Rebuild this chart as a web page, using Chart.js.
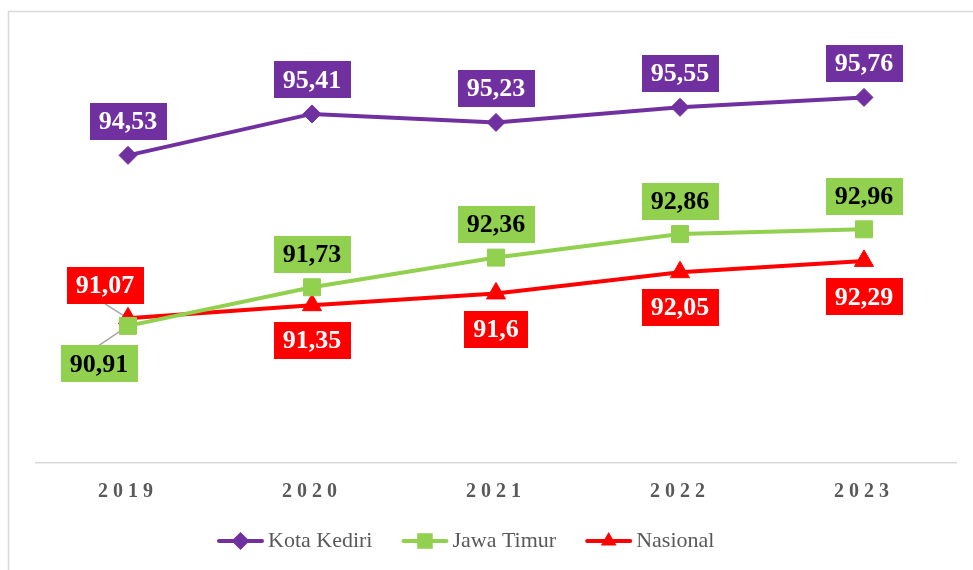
<!DOCTYPE html>
<html>
<head>
<meta charset="utf-8">
<title>Kota Kediri, Jawa Timur, Nasional 2019-2023</title>
<script src="https://cdn.jsdelivr.net/npm/chart.js@4.4.1/dist/chart.umd.min.js"></script>
<style>
  html, body { margin: 0; padding: 0; background: #fff; }
</style>
</head>
<body>
<canvas id="chart" width="973" height="570"></canvas>
<script>
// Tahun dan nilai per wilayah
const years = ["2019", "2020", "2021", "2022", "2023"]
const kotaKediri = [94.53, 95.41, 95.23, 95.55, 95.76]
const jawaTimur = [90.91, 91.73, 92.36, 92.86, 92.96]
const nasional = [91.07, 91.35, 91.6, 92.05, 92.29]

// Letak kotak label relatif terhadap titik (dx, dy)
const kediriLabelPos = [[0, -34], [0, -34], [0, -34], [0, -34], [0, -34]]
const jatimLabelPos = [[-29, 38], [0, -33], [0, -33], [0, -33], [0, -33]]
const nasionalLabelPos = [[-23, -33], [0, 35], [0, 36], [0, 35], [0, 36]]

const serif = "'Liberation Serif', 'Times New Roman', serif"
const grey = "#595959"

function drawMarker(ctx, style, x, y, r, color) {
  ctx.save()
  ctx.fillStyle = color
  ctx.beginPath()
  if (style === "rectRot") {
    ctx.moveTo(x, y - r)
    ctx.lineTo(x + r, y)
    ctx.lineTo(x, y + r)
    ctx.lineTo(x - r, y)
  } else if (style === "rect") {
    const s = r * Math.SQRT1_2
    ctx.rect(x - s, y - s, 2 * s, 2 * s)
  } else {
    ctx.moveTo(x, y - r)
    ctx.lineTo(x + r * 0.87, y + r * 0.5)
    ctx.lineTo(x - r * 0.87, y + r * 0.5)
  }
  ctx.closePath()
  ctx.fill()
  ctx.restore()
}

// Bingkai luar, spasi huruf untuk label sumbu
const framePlugin = {
  id: "frame",
  beforeDraw(chart) {
    const ctx = chart.ctx
    ctx.save()
    ctx.strokeStyle = "#d9d9d9"
    ctx.lineWidth = 1.5
    ctx.strokeRect(8.5, 11.5, 1100, 700)
    ctx.restore()
    ctx.letterSpacing = "5px"
  },
  beforeDatasetsDraw(chart) {
    chart.ctx.letterSpacing = "0px"
  },
}

// Kotak nilai di setiap titik
const valueLabels = {
  id: "valueLabels",
  beforeDatasetsDraw(chart) {
    const ctx = chart.ctx
    chart.data.datasets.forEach((ds, i) => {
      const meta = chart.getDatasetMeta(i)
      meta.data.forEach((pt, j) => {
        const [dx, dy] = ds.labelPos[j]
        if (dx === 0) return
        const by = pt.y + dy + (dy > 0 ? -18.5 : 18.5)
        ctx.save()
        ctx.strokeStyle = "#a6a6a6"
        ctx.lineWidth = 1.5
        ctx.beginPath()
        ctx.moveTo(pt.x + dx, by)
        ctx.lineTo(pt.x, pt.y)
        ctx.stroke()
        ctx.restore()
      })
    })
  },
  afterDatasetsDraw(chart) {
    const ctx = chart.ctx
    ctx.save()
    ctx.font = "bold 26px " + serif
    ctx.textAlign = "center"
    ctx.textBaseline = "middle"
    chart.data.datasets.forEach((ds, i) => {
      const meta = chart.getDatasetMeta(i)
      meta.data.forEach((pt, j) => {
        const text = String(ds.data[j]).replace(".", ",")
        const [dx, dy] = ds.labelPos[j]
        const cx = pt.x + dx
        const cy = pt.y + dy
        const w = ctx.measureText(text).width + 18
        const h = 37
        ctx.fillStyle = ds.borderColor
        ctx.fillRect(Math.round(cx - w / 2), Math.round(cy - h / 2), Math.round(w), h)
        ctx.fillStyle = ds.labelColor
        ctx.fillText(text, cx, cy + 1)
      })
    })
    ctx.restore()
  },
}

// Legenda di bawah grafik
const legendPlugin = {
  id: "bottomLegend",
  afterDraw(chart) {
    const ctx = chart.ctx
    ctx.save()
    ctx.font = "22px " + serif
    ctx.textBaseline = "middle"
    let x = 217
    const y = 541
    chart.data.datasets.forEach((ds) => {
      ctx.strokeStyle = ds.borderColor
      ctx.lineWidth = 4
      ctx.lineCap = "round"
      ctx.beginPath()
      ctx.moveTo(x + 2, y)
      ctx.lineTo(x + 45, y)
      ctx.stroke()
      drawMarker(ctx, ds.pointStyle, x + 23.5, y, ds.pointStyle === "rect" ? 11 : 9, ds.borderColor)
      ctx.fillStyle = grey
      ctx.fillText(ds.label, x + 51, y)
      x += 51 + ctx.measureText(ds.label).width + 29
    })
    ctx.restore()
  },
}

new Chart(document.getElementById("chart"), {
  type: "line",
  data: {
    labels: years,
    datasets: [
      {
        label: "Kota Kediri",
        data: kotaKediri,
        borderColor: "#7030A0",
        backgroundColor: "#7030A0",
        pointStyle: "rectRot",
        pointRadius: 9,
        labelPos: kediriLabelPos,
        labelColor: "#ffffff",
      },
      {
        label: "Jawa Timur",
        data: jawaTimur,
        borderColor: "#92D050",
        backgroundColor: "#92D050",
        pointStyle: "rect",
        pointRadius: 12,
        labelPos: jatimLabelPos,
        labelColor: "#000000",
      },
      {
        label: "Nasional",
        data: nasional,
        borderColor: "#FF0000",
        backgroundColor: "#FF0000",
        pointStyle: "triangle",
        pointRadius: 11,
        labelPos: nasionalLabelPos,
        labelColor: "#ffffff",
      },
    ],
  },
  options: {
    responsive: false,
    devicePixelRatio: 1,
    animation: false,
    elements: {
      line: { borderWidth: 4, tension: 0 },
      point: { borderWidth: 1 },
    },
    layout: {
      padding: { left: 36, right: 17, top: 39, bottom: 49 },
    },
    plugins: {
      legend: { display: false },
      tooltip: { enabled: false },
    },
    scales: {
      x: {
        offset: true,
        grid: { display: false, drawTicks: false },
        border: { display: true, color: "#d9d9d9", width: 1.5 },
        ticks: {
          color: grey,
          padding: 17,
          font: { family: serif, size: 20, weight: "bold" },
        },
      },
      y: {
        display: false,
        min: 88,
        max: 97,
      },
    },
  },
  plugins: [framePlugin, valueLabels, legendPlugin],
})
</script>
</body>
</html>
